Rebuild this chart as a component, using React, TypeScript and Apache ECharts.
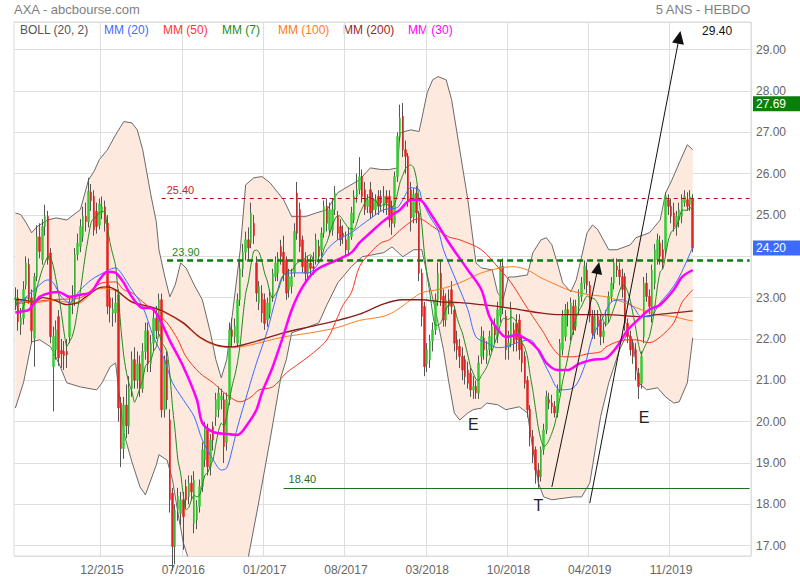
import React, { useEffect, useRef } from 'react';
import * as echarts from 'echarts';

const FONT = 'Arial, "Liberation Sans", sans-serif';

// x axis: weekly slots, tick labels
const slotCount = 272;
const categories = Array.from({ length: slotCount }, (_, i) => 'W' + i);
const xTickIndex = [32, 62, 92, 122, 152, 182, 212, 242];
const xTickLabels = ['12/2015', '07/2016', '01/2017', '08/2017', '03/2018', '10/2018', '04/2019', '11/2019'];

// weekly candles: [open, close, low, high]
const candlesA = [
  [22.95, 23.00, 22.70, 23.25], [22.99, 22.42, 22.20, 23.20], [22.34, 22.51, 22.10, 22.75], [22.50, 23.20, 22.35, 23.40],
  [23.30, 23.84, 23.20, 24.00], [23.80, 23.00, 22.85, 23.95], [23.00, 22.20, 21.90, 23.20], [22.02, 23.51, 21.33, 23.60],
  [23.51, 24.48, 23.40, 24.75], [24.47, 24.12, 23.95, 24.80], [23.92, 24.72, 23.80, 24.90], [24.72, 24.97, 24.50, 25.25],
  [24.97, 23.92, 23.80, 25.10], [24.08, 22.06, 21.90, 24.20], [21.33, 22.06, 20.25, 22.30], [21.74, 22.22, 21.50, 22.45],
  [22.54, 21.54, 21.35, 22.70], [21.72, 21.64, 21.30, 22.00], [21.70, 21.60, 21.25, 21.95], [21.70, 21.62, 21.30, 22.00],
  [22.06, 22.87, 21.90, 23.00], [22.87, 22.95, 22.60, 23.30], [22.95, 24.04, 22.80, 24.20], [24.04, 24.32, 23.90, 24.55],
  [24.24, 24.72, 24.10, 24.90], [24.48, 24.97, 24.35, 25.20], [24.97, 24.84, 24.60, 25.30], [24.84, 25.57, 24.70, 25.90],
  [25.55, 25.35, 25.10, 25.75], [25.45, 24.64, 24.50, 25.60], [25.09, 24.72, 24.55, 25.30], [24.75, 25.27, 24.65, 25.40],
  [25.05, 25.20, 24.90, 25.45], [25.20, 24.80, 24.60, 25.35]
];
const candlesB = [
  [24.80, 22.79, 22.60, 25.00], [23.00, 22.75, 22.40, 23.30], [22.63, 22.72, 22.30, 23.00], [22.63, 22.87, 22.40, 23.20],
  [23.07, 20.33, 20.00, 23.20], [20.45, 19.35, 18.90, 20.60], [19.35, 20.40, 19.10, 20.60], [20.40, 19.90, 19.60, 20.90],
  [19.90, 20.80, 19.70, 21.10], [20.80, 21.50, 20.60, 21.70], [21.50, 21.00, 20.80, 21.80], [21.00, 21.40, 20.80, 21.70],
  [21.40, 20.80, 20.60, 21.60], [20.80, 21.70, 20.70, 21.90], [21.70, 22.20, 21.50, 22.40], [22.20, 21.40, 21.20, 22.40],
  [21.40, 21.90, 21.20, 22.10], [21.90, 22.50, 21.70, 22.70], [22.50, 22.20, 22.00, 22.80], [22.20, 22.95, 22.10, 23.10],
  [22.95, 20.29, 20.10, 23.10], [20.29, 21.50, 20.10, 21.60], [21.50, 20.53, 20.30, 21.70], [20.04, 18.11, 17.80, 20.30],
  [18.27, 16.98, 16.40, 18.40], [16.98, 17.86, 16.55, 18.00], [17.86, 18.19, 17.60, 18.40], [17.78, 18.11, 17.50, 18.30],
  [18.11, 17.70, 16.90, 18.30], [18.43, 18.11, 17.90, 18.60], [18.19, 18.51, 18.00, 18.70], [18.51, 18.30, 18.10, 18.70],
  [17.54, 18.59, 17.30, 18.80], [17.62, 17.95, 17.40, 18.10], [17.95, 18.43, 17.80, 18.60], [18.43, 19.32, 18.30, 19.50],
  [19.08, 19.88, 18.90, 20.00], [19.80, 18.91, 18.70, 19.95], [18.91, 19.56, 18.70, 19.70], [19.88, 19.56, 19.30, 20.00],
  [20.12, 20.53, 19.90, 20.70], [20.29, 20.69, 20.10, 20.85], [20.53, 20.62, 20.30, 20.80], [20.53, 19.40, 19.00, 20.70],
  [19.50, 20.53, 19.30, 20.70], [20.53, 22.22, 20.40, 22.40], [22.22, 22.06, 21.80, 22.50], [22.06, 22.30, 21.90, 22.50],
  [21.90, 22.95, 21.80, 23.10], [22.95, 23.70, 22.80, 23.90], [23.70, 24.10, 23.50, 24.30], [24.10, 24.40, 23.90, 24.60],
  [24.40, 24.20, 23.90, 24.70]
];
const candlesC = [
  [24.32, 25.05, 24.20, 25.30], [24.80, 24.50, 24.30, 25.00], [23.84, 23.11, 22.90, 24.00], [22.87, 23.27, 22.70, 23.40],
  [23.11, 22.63, 22.40, 23.30], [22.95, 22.38, 22.22, 23.10], [22.46, 22.87, 22.30, 23.00], [22.63, 23.03, 22.50, 23.20],
  [23.03, 23.59, 22.90, 23.70], [23.51, 23.84, 23.40, 24.00], [23.59, 23.96, 23.40, 24.10], [24.24, 24.00, 23.80, 24.40],
  [24.10, 23.59, 23.40, 24.50], [23.92, 23.11, 22.95, 24.00], [23.19, 23.51, 23.00, 23.70], [23.27, 23.51, 23.10, 23.70],
  [23.60, 24.60, 23.50, 24.80], [25.53, 24.56, 24.40, 25.80], [25.13, 24.24, 24.10, 25.30], [24.40, 23.75, 23.60, 24.50],
  [23.92, 23.59, 23.40, 24.10], [23.59, 23.84, 23.40, 24.00], [23.84, 23.71, 23.50, 24.00], [23.75, 23.71, 23.55, 24.10],
  [23.92, 24.40, 23.80, 24.55], [24.24, 24.00, 23.85, 24.40], [24.16, 24.56, 24.00, 24.70], [24.56, 25.21, 24.45, 25.35],
  [25.21, 24.80, 24.60, 25.40], [24.64, 25.13, 24.50, 25.30], [24.64, 25.13, 24.50, 25.40], [25.13, 25.53, 25.00, 25.70],
  [24.97, 24.56, 24.40, 25.10], [24.72, 24.40, 24.25, 24.90], [24.56, 24.48, 24.30, 24.75], [24.40, 24.16, 24.00, 24.60],
  [24.16, 24.48, 24.00, 24.70], [24.48, 25.05, 24.40, 25.20], [24.88, 25.45, 24.80, 25.60], [25.45, 25.61, 25.30, 26.00],
  [25.61, 25.93, 25.50, 26.40], [25.93, 25.45, 25.30, 26.10], [25.61, 25.13, 25.00, 25.80], [25.21, 25.37, 25.05, 25.50],
  [25.61, 25.05, 24.90, 25.80], [25.37, 25.13, 24.95, 25.55], [25.13, 25.37, 25.00, 25.50], [25.45, 25.21, 25.00, 25.60],
  [25.45, 25.29, 25.10, 25.60], [25.21, 25.45, 25.05, 25.70], [25.45, 25.29, 25.00, 25.60], [25.45, 24.88, 24.70, 25.60],
  [25.21, 24.80, 24.52, 25.35], [24.80, 25.93, 24.70, 26.05]
];
const candlesD = [
  [25.93, 26.90, 25.80, 27.00], [26.90, 27.35, 26.80, 27.67], [27.39, 26.58, 26.40, 27.71], [26.58, 26.42, 26.00, 26.80],
  [26.42, 25.37, 25.20, 26.50], [25.61, 24.93, 24.60, 25.80], [24.95, 25.50, 24.80, 25.65], [25.53, 25.05, 24.80, 25.70],
  [25.05, 23.59, 23.40, 25.10], [23.59, 22.55, 22.30, 23.70], [22.79, 21.33, 21.10, 22.90], [21.40, 21.74, 21.20, 21.90],
  [21.50, 21.95, 21.30, 22.10], [21.95, 22.22, 21.70, 22.40], [22.22, 22.95, 22.10, 23.10], [22.95, 23.59, 22.80, 23.85],
  [23.59, 22.95, 22.80, 23.90], [23.03, 22.46, 22.30, 23.20], [22.46, 22.95, 22.30, 23.10], [22.95, 22.80, 22.60, 23.20],
  [23.19, 22.79, 22.60, 23.40], [22.70, 21.90, 21.70, 22.80], [21.98, 21.74, 21.50, 22.20], [21.82, 21.58, 21.30, 22.00],
  [21.58, 21.25, 21.00, 21.80], [21.50, 21.09, 20.90, 21.60], [21.25, 20.93, 20.80, 21.45], [21.17, 20.77, 20.60, 21.30],
  [20.77, 20.85, 20.55, 21.10], [20.85, 20.70, 20.55, 21.00], [20.69, 21.42, 20.55, 21.60], [21.58, 22.06, 21.40, 22.30],
  [22.02, 21.74, 21.50, 22.20], [21.58, 21.74, 21.40, 21.95], [21.74, 22.06, 21.60, 22.20], [21.82, 22.30, 21.70, 22.50],
  [22.30, 22.10, 21.90, 22.50], [22.06, 22.71, 21.90, 22.90], [22.55, 23.76, 22.40, 23.90], [23.76, 22.79, 22.60, 23.95],
  [22.55, 21.74, 21.50, 22.70], [21.80, 21.90, 21.50, 22.20], [21.90, 22.71, 21.80, 22.90], [22.22, 21.90, 21.70, 22.40],
  [22.38, 21.98, 21.70, 22.60], [22.46, 21.74, 21.50, 22.60], [21.90, 21.42, 21.20, 22.10], [21.58, 20.93, 20.80, 21.70],
  [21.00, 20.29, 20.10, 21.10], [20.30, 19.64, 19.40, 20.40], [19.64, 19.24, 19.00, 19.80], [19.32, 18.83, 18.50, 19.40],
  [18.83, 18.67, 18.40, 19.00]
];
const candlesE = [
  [18.67, 19.32, 18.55, 19.40], [19.32, 19.80, 19.20, 19.95], [19.80, 20.61, 19.70, 20.75], [20.53, 20.45, 20.30, 20.70],
  [20.45, 20.37, 20.20, 20.65], [20.37, 20.21, 20.10, 20.50], [20.21, 20.77, 20.10, 20.90], [20.77, 21.90, 20.70, 22.00],
  [21.74, 22.55, 21.60, 22.70], [22.06, 22.71, 21.95, 22.85], [22.71, 22.60, 22.30, 22.90], [22.06, 22.87, 21.95, 23.00],
  [22.79, 22.22, 22.10, 22.95], [22.30, 22.79, 22.20, 22.95], [22.79, 23.03, 22.60, 23.20], [23.03, 23.35, 22.90, 23.50],
  [23.35, 23.76, 23.20, 23.90], [23.67, 23.30, 23.10, 23.85], [23.30, 22.55, 22.40, 23.40], [22.55, 22.14, 22.00, 22.70],
  [22.14, 22.55, 22.00, 22.70], [22.55, 22.30, 22.10, 22.70], [22.46, 22.06, 21.85, 22.60], [22.06, 22.20, 21.90, 22.40],
  [22.38, 22.55, 22.30, 22.70], [22.55, 23.03, 22.40, 23.15], [23.03, 23.35, 22.90, 23.50], [23.35, 23.84, 23.20, 23.95],
  [23.76, 23.67, 23.50, 23.95], [23.67, 23.51, 23.30, 23.85], [23.51, 23.20, 23.00, 23.70], [23.51, 22.38, 22.20, 23.60],
  [22.38, 22.06, 21.90, 22.50], [22.06, 21.74, 21.60, 22.20], [21.82, 21.58, 21.40, 22.00], [21.74, 21.25, 21.00, 21.90],
  [21.17, 20.85, 20.55, 21.30], [20.93, 21.58, 20.80, 21.70], [22.06, 23.35, 21.90, 23.50], [23.35, 23.03, 22.90, 23.60],
  [23.03, 22.79, 22.60, 23.20], [22.55, 23.67, 22.40, 23.80], [23.35, 24.16, 23.20, 24.30], [23.92, 24.40, 23.80, 24.55],
  [24.32, 24.00, 23.80, 24.50], [24.16, 23.84, 23.70, 24.40], [24.16, 25.45, 24.00, 25.55], [25.37, 25.21, 25.00, 25.50],
  [25.21, 24.97, 24.80, 25.40], [25.05, 24.72, 24.60, 25.30], [24.72, 24.97, 24.50, 25.10], [24.88, 25.13, 24.70, 25.30],
  [24.97, 25.37, 24.80, 25.50], [25.30, 25.45, 25.20, 25.60], [25.37, 25.21, 25.10, 25.55], [25.25, 25.45, 25.10, 25.60],
  [25.41, 24.20, 24.10, 25.50]
];

// indicators: [week index, value]
const bbUpper = [
  [0, 25.05], [2, 25.01], [4, 24.81], [6, 24.57], [8, 24.72], [12, 24.88], [15, 24.93], [19, 24.88], [24, 25.13], [27, 25.85],
  [29, 26.05], [31, 26.34], [34, 26.58], [37, 26.94], [40, 27.26], [43, 27.23], [45, 27.06], [47, 26.58], [50, 25.49],
  [52, 24.84], [53, 24.16], [55, 23.55], [57, 23.02], [59, 23.31], [61, 23.84], [63, 23.72], [66, 23.31], [69, 22.95],
  [72, 22.15], [74, 21.50], [76, 21.06], [78, 21.50], [80, 22.54], [83, 24.16], [85, 25.73], [88, 25.90], [91, 25.93],
  [94, 25.78], [99, 25.37], [102, 24.96], [107, 24.96], [111, 25.05], [115, 25.13], [119, 25.54], [122, 25.66],
  [127, 25.85], [131, 26.14], [135, 26.10], [138, 26.10], [141, 26.14], [142, 26.99], [146, 27.06], [149, 27.02],
  [152, 27.96], [154, 28.27], [156, 28.35], [159, 28.27], [161, 27.79], [164, 26.58], [167, 25.37], [170, 23.84],
  [172, 23.72], [176, 23.67], [178, 23.12], [180, 22.95], [182, 23.50], [184, 23.50], [189, 23.55], [191, 24.09],
  [194, 24.40], [196, 24.45], [198, 24.28], [200, 23.84], [202, 23.36], [205, 23.14], [207, 23.43], [211, 24.57],
  [213, 24.76], [215, 24.64], [219, 24.16], [222, 24.16], [227, 24.28], [229, 24.45], [234, 24.57], [238, 24.88],
  [240, 25.54], [242, 25.80], [245, 26.26], [248, 26.70], [250, 26.58]
];
const bbLower = [
  [0, 20.33], [3, 20.94], [6, 21.93], [9, 21.98], [13, 21.81], [16, 21.42], [19, 20.94], [24, 20.84], [30, 20.77],
  [32, 20.94], [35, 21.33], [37, 21.42], [40, 19.73], [43, 19.03], [46, 18.42], [48, 18.23], [50, 18.59], [52, 18.95],
  [53, 19.20], [56, 19.07], [58, 18.59], [60, 17.79], [62, 17.07], [64, 16.65], [68, 16.30], [72, 16.10], [76, 16.00],
  [80, 16.20], [84, 16.50], [86, 16.73], [90, 18.11], [94, 19.56], [98, 21.08], [100, 21.50], [102, 22.15], [108, 22.29],
  [112, 22.39], [115, 22.83], [119, 23.36], [124, 23.75], [128, 23.99], [136, 24.09], [139, 24.23], [143, 23.99],
  [147, 24.16], [150, 24.16], [152, 23.55], [155, 22.71], [158, 21.74], [160, 20.94], [162, 20.21], [164, 20.04],
  [167, 20.21], [169, 20.29], [172, 20.33], [174, 20.45], [178, 20.41], [181, 20.29], [186, 20.36], [189, 20.21],
  [191, 19.32], [193, 18.52], [195, 18.18], [198, 18.11], [206, 18.18], [209, 18.18], [212, 18.52], [216, 20.12],
  [219, 20.94], [223, 21.74], [226, 22.15], [228, 21.91], [230, 20.94], [233, 20.77], [237, 20.82], [240, 20.60],
  [243, 20.45], [245, 20.48], [248, 20.94], [250, 22.03]
];
const ma20 = [
  [0, 22.83], [2, 22.90], [7, 23.19], [12, 23.43], [14, 23.36], [17, 23.02], [20, 22.88], [24, 23.19], [28, 23.43],
  [31, 23.55], [37, 23.72], [39, 23.60], [43, 23.19], [47, 22.78], [51, 22.05], [55, 21.50], [58, 20.94], [62, 20.53],
  [66, 20.12], [69, 19.56], [73, 19.08], [76, 18.83], [78, 18.88], [80, 19.32], [82, 19.87], [86, 20.77], [89, 21.42],
  [93, 22.20], [96, 22.95], [99, 23.55], [104, 23.60], [108, 23.60], [111, 23.75], [115, 24.16], [119, 24.40],
  [124, 24.57], [127, 24.72], [132, 24.96], [136, 25.13], [141, 25.18], [143, 25.37], [146, 25.66], [149, 25.61],
  [150, 25.37], [153, 24.96], [156, 24.64], [158, 24.16], [163, 23.36], [167, 22.71], [170, 22.05], [174, 21.91],
  [178, 21.79], [181, 21.81], [186, 21.93], [190, 21.98], [194, 21.57], [197, 21.18], [201, 20.77], [206, 20.82],
  [210, 21.33], [213, 22.05], [217, 22.54], [220, 22.90], [224, 22.95], [228, 22.78], [231, 22.54], [234, 22.54],
  [238, 22.88], [242, 23.19], [245, 23.50], [248, 23.92], [250, 24.23]
];
const ma30 = [
  [0, 22.64], [2, 22.66], [5, 22.71], [9, 23.02], [13, 23.12], [16, 23.14], [20, 23.02], [24, 23.07], [28, 23.14],
  [31, 23.43], [34, 23.63], [37, 23.60], [40, 23.36], [43, 23.02], [47, 22.75], [50, 22.75], [53, 22.51], [57, 21.96],
  [62, 21.33], [67, 20.53], [69, 19.97], [73, 19.75], [78, 19.70], [82, 19.68], [86, 19.97], [89, 20.29], [91, 20.70],
  [95, 21.33], [99, 22.10], [102, 22.71], [106, 23.26], [111, 23.67], [119, 23.92], [124, 24.09], [127, 24.33],
  [131, 24.57], [135, 24.81], [138, 24.96], [142, 25.13], [146, 25.37], [149, 25.37], [154, 24.96], [160, 24.33],
  [167, 23.67], [172, 23.19], [175, 22.54], [179, 22.15], [181, 22.05], [185, 22.10], [189, 21.98], [193, 21.74],
  [196, 21.42], [200, 21.25], [204, 21.25], [208, 21.40], [213, 21.50], [218, 21.54], [222, 21.81], [226, 22.22],
  [231, 22.54], [234, 22.71], [238, 22.83], [243, 23.19], [246, 23.50], [250, 23.67]
];
const ma50 = [
  [0, 22.85], [13, 22.95], [24, 23.00], [32, 23.36], [37, 23.38], [40, 23.19], [43, 23.12], [47, 22.90], [52, 22.63],
  [56, 22.39], [60, 21.98], [63, 21.57], [68, 21.18], [73, 20.94], [78, 20.65], [83, 20.48], [87, 20.60], [90, 20.77],
  [95, 20.84], [100, 21.18], [105, 21.42], [110, 21.67], [115, 21.98], [119, 22.54], [121, 22.83], [124, 23.12],
  [127, 23.75], [131, 24.09], [135, 24.33], [138, 24.40], [143, 24.69], [147, 24.88], [149, 24.91], [154, 24.72],
  [160, 24.47], [164, 24.40], [172, 24.16], [179, 23.67], [183, 23.36], [187, 22.95], [191, 22.54], [195, 22.15],
  [198, 21.81], [202, 21.57], [206, 21.57], [211, 21.64], [216, 21.69], [218, 21.81], [222, 21.93], [226, 21.98],
  [229, 21.98], [234, 21.91], [238, 22.05], [243, 22.39], [246, 22.88], [250, 23.19]
];
const ma100 = [
  [0, 22.93], [7, 22.88], [14, 22.93], [23, 22.86], [31, 23.22], [37, 23.17], [43, 22.88], [50, 22.76], [55, 22.64],
  [62, 22.37], [68, 22.03], [74, 21.84], [80, 21.79], [87, 21.86], [99, 22.05], [109, 22.15], [119, 22.28], [127, 22.45],
  [136, 22.55], [141, 22.71], [146, 22.95], [150, 23.12], [157, 23.21], [164, 23.36], [172, 23.60], [179, 23.72],
  [184, 23.75], [189, 23.67], [194, 23.48], [198, 23.36], [204, 23.19], [208, 23.12], [212, 23.07], [218, 23.02],
  [224, 22.90], [231, 22.71], [237, 22.59], [243, 22.54], [248, 22.46], [250, 22.44]
];
const ma200 = [
  [0, 22.95], [2, 22.95], [7, 22.90], [10, 23.00], [14, 22.95], [19, 22.83], [23, 22.88], [26, 23.02], [31, 23.24],
  [34, 23.26], [37, 23.19], [43, 22.90], [50, 22.78], [55, 22.66], [62, 22.39], [68, 22.05], [74, 21.86], [80, 21.81],
  [87, 21.91], [99, 22.15], [109, 22.30], [119, 22.45], [127, 22.60], [136, 22.85], [143, 22.95], [150, 22.95],
  [157, 22.90], [164, 22.88], [172, 22.83], [179, 22.78], [186, 22.71], [194, 22.63], [201, 22.59], [208, 22.59],
  [218, 22.59], [231, 22.54], [237, 22.59], [243, 22.63], [250, 22.68]
];

// horizontal levels and annotations (data coordinates)
const levelValues = [25.4, 23.9, 18.4];
const levelStartIndex = [54, 56, 99];
const arrowShort = [[198, 18.42], [215, 23.72]];
const arrowLong = [[212, 18.03], [245, 29.3]];
const noteTexts = ['E', 'E', 'T', '29.40'];
const noteIndex = [169, 232, 193, 259];
const noteValues = [19.92, 20.09, 17.96, 29.46];
const lastPrice = 24.2;
const markPrice = 27.69;

export default function App() {
  const ref = useRef<HTMLDivElement>(null);
  useEffect(() => {
    const chart = echarts.init(ref.current as HTMLDivElement, undefined, { renderer: 'svg' });
    const candles = [...candlesA, ...candlesB, ...candlesC, ...candlesD, ...candlesE];
    const closes = candles.map((c) => c[1]);
    const ma7 = closes.map((_, i) => {
      const w = closes.slice(Math.max(0, i - 6), i + 1);
      return [i, +(w.reduce((a, b) => a + b, 0) / w.length).toFixed(3)];
    });
    const bodies = candles.map(([o, c]) => [o, c, Math.min(o, c), Math.max(o, c)]);
    const tickSet = new Set(xTickIndex);
    const tickLabel: Record<number, string> = {};
    xTickIndex.forEach((k, j) => (tickLabel[k] = xTickLabels[j]));

    const levelTextColors = ['#c62828', '#1a8a1a', '#1f6e1f'];
    const levelStyles = [
      { color: '#a31515', width: 1, type: [4, 4] },
      { color: '#0a7d0a', width: 2.5, type: [6, 4] },
      { color: '#1f6e1f', width: 1, type: 'solid' },
    ];

    const lineSeries = (name: string, data: number[][], color: string, width: number, z: number) => ({
      type: 'line', name, data, symbol: 'none', smooth: 0.3, z, silent: true,
      lineStyle: { color, width }, itemStyle: { color },
    });

    const legendItems = [
      { text: 'BOLL (20, 2)', x: 20, color: '#555555' },
      { text: 'MM (20)', x: 104, color: '#3d6bff' },
      { text: 'MM (50)', x: 163, color: '#ff3535' },
      { text: 'MM (7)', x: 222, color: '#1a8a1a' },
      { text: 'MM (100)', x: 278, color: '#ff7a22' },
      { text: 'MM (200)', x: 343, color: '#9b2424' },
      { text: 'MM (30)', x: 408, color: '#ff00ff' },
    ];

    const priceBox = (v: number, bg: string) => ({
      yAxis: v,
      lineStyle: { color: 'rgba(0,0,0,0)', width: 1, type: 'solid' },
      label: {
        show: true, position: 'end', distance: 2, formatter: v.toFixed(2), color: '#ffffff',
        backgroundColor: bg, padding: [2, 16, 1, 3], fontSize: 12, fontFamily: FONT,
      },
    });

    chart.setOption({
      animation: false,
      backgroundColor: '#ffffff',
      textStyle: { fontFamily: FONT },
      grid: { left: 14, right: 49, top: 22, bottom: 24, show: true, borderColor: '#dadada', borderWidth: 1 },
      xAxis: {
        type: 'category', data: categories, boundaryGap: true,
        axisLine: { show: false }, axisTick: { show: false },
        axisLabel: {
          interval: (i: number) => tickSet.has(i),
          formatter: (_v: string, i: number) => tickLabel[i] || '',
          color: '#666', fontSize: 12, margin: 8, fontFamily: FONT,
        },
        splitLine: { show: true, interval: (i: number) => tickSet.has(i), lineStyle: { color: '#dedede', width: 1 } },
      },
      yAxis: {
        type: 'value', position: 'right', min: 16.75, max: 29.67, splitNumber: 13,
        axisLine: { show: false }, axisTick: { show: false },
        axisLabel: {
          color: '#666', fontSize: 12, margin: 5, fontFamily: FONT, padding: [0, 0, 4, 0],
          showMinLabel: false, showMaxLabel: false,
          formatter: (v: number) => (Math.abs(v - 24) < 0.01 ? '' : v.toFixed(2)),
        },
        splitLine: { lineStyle: { color: '#dedede', width: 1 } },
      },
      graphic: [
        { type: 'text', left: 14, top: 3, style: { text: 'AXA - abcbourse.com', fill: '#808080', font: `13px ${FONT}` } },
        { type: 'text', right: 49, top: 3, style: { text: '5 ANS - HEBDO', fill: '#808080', font: `13px ${FONT}` } },
        ...legendItems.map((l) => ({
          type: 'text', left: l.x, top: 24, style: { text: l.text, fill: l.color, font: `12px ${FONT}` },
        })),
      ],
      series: [
        {
          type: 'custom', name: 'bbFill', silent: true, clip: true, z: 1, data: [[0, 20]],
          renderItem: (_p: any, api: any) => {
            const pts = bbUpper.map((p) => api.coord(p)).concat(bbLower.slice().reverse().map((p) => api.coord(p)));
            return { type: 'polygon', shape: { points: pts }, style: { fill: '#fde9dd' } };
          },
        },
        { type: 'line', name: 'bbUpper', data: bbUpper, symbol: 'none', z: 2, silent: true, lineStyle: { color: '#6a6a6a', width: 1 } },
        { type: 'line', name: 'bbLower', data: bbLower, symbol: 'none', z: 2, silent: true, lineStyle: { color: '#6a6a6a', width: 1 } },
        {
          type: 'candlestick', name: 'wick', data: candles, barWidth: 1, z: 3, silent: true,
          itemStyle: { color: '#555', color0: '#555', borderColor: '#555', borderColor0: '#555', borderWidth: 1 },
        },
        {
          type: 'candlestick', name: 'body', data: bodies, barWidth: 2, z: 4, silent: true,
          itemStyle: { color: '#33cc33', color0: '#e52020', borderColor: '#33cc33', borderColor0: '#e52020', borderWidth: 0.5 },
          markLine: {
            silent: true, symbol: ['none', 'none'], animation: false, z: 10,
            data: [
              ...levelValues.map((v, k) => [
                {
                  coord: [levelStartIndex[k], v], lineStyle: levelStyles[k],
                  label: {
                    show: true, position: 'insideStartTop', formatter: v.toFixed(2),
                    color: levelTextColors[k], fontSize: 11, fontFamily: FONT, distance: [5, 3],
                  },
                },
                { coord: [slotCount - 1, v] },
              ]),
              [
                { coord: arrowShort[0], symbol: 'none', lineStyle: { color: '#111', width: 1, type: 'solid' }, label: { show: false } },
                { coord: arrowShort[1], symbol: 'triangle', symbolSize: [11, 12] },
              ],
              [
                { coord: arrowLong[0], symbol: 'none', lineStyle: { color: '#111', width: 1, type: 'solid' }, label: { show: false } },
                { coord: arrowLong[1], symbol: 'triangle', symbolSize: [12, 13] },
              ],
              priceBox(markPrice, '#0a800a'),
              priceBox(lastPrice, '#3d6bff'),
            ],
          },
          markPoint: {
            silent: true, symbol: 'circle', symbolSize: 0, animation: false,
            label: { show: true, position: 'inside', formatter: '{b}', color: '#222', fontSize: 16, fontFamily: FONT },
            data: noteTexts.map((t, k) => ({
              name: t, coord: [noteIndex[k], noteValues[k]],
              label: t.length > 1 ? { fontSize: 12, color: '#111' } : undefined,
            })),
          },
        },
        lineSeries('MM (100)', ma100, '#ff7a22', 1, 5),
        lineSeries('MM (200)', ma200, '#8b1c1c', 1.3, 5),
        lineSeries('MM (50)', ma50, '#ff3320', 1, 5),
        lineSeries('MM (20)', ma20, '#3d6bff', 1, 6),
        { ...lineSeries('MM (7)', ma7, '#1a8a1a', 1, 6), smooth: 0.2 },
        lineSeries('MM (30)', ma30, '#ff00ff', 2.5, 7),
      ],
    });
    return () => chart.dispose();
  }, []);
  return <div ref={ref} style={{ position: 'fixed', left: 0, top: 0, width: 800, height: 580, background: '#fff' }} />;
}
